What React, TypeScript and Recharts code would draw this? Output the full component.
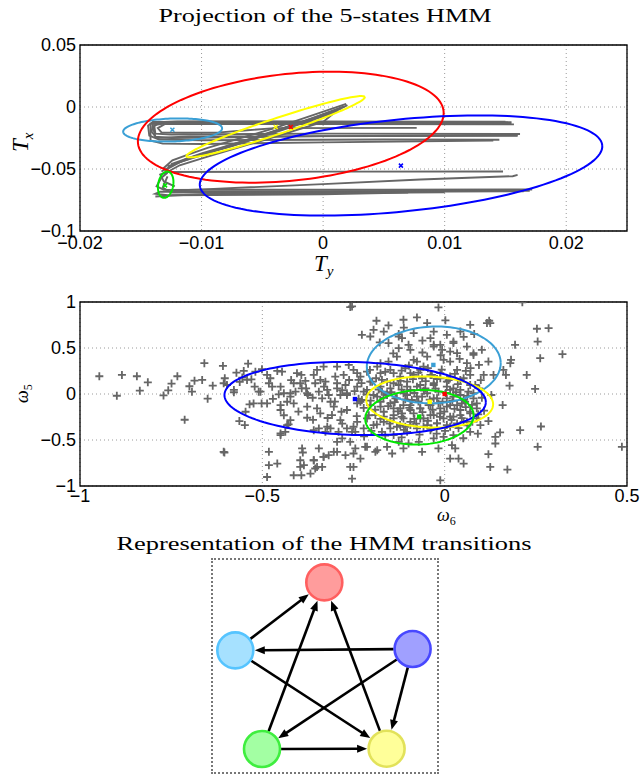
import React from 'react';
import { ScatterChart, Scatter, XAxis, YAxis, CartesianGrid, ReferenceArea } from 'recharts';

type P = [number, number];
const toPts = (a: P[]) => a.map(([x, y]) => ({ x, y }));

// ---------- states ----------
const stateNames = ['cyan', 'red', 'yellow', 'blue', 'green'];
const stateColors: Record<string, string> = {
  cyan: '#3a9fd5',
  red: '#ff0000',
  yellow: '#ffff00',
  blue: '#0000ff',
  green: '#00e600',
};

// ---------- top panel (T_y, T_x) ----------
const topXTicks = [-0.02, -0.01, 0, 0.01, 0.02];
const topYTicks = [-0.1, -0.05, 0, 0.05];

const trajUpperA: P[] = [[0.0155, -0.0122], [0.005, -0.012], [-0.01, -0.0119], [-0.014, -0.012], [-0.0144, -0.015], [-0.0143, -0.023], [-0.0135, -0.0262], [-0.01, -0.0268], [0.005, -0.0262], [0.0145, -0.0264]];
const trajUpperB: P[] = [[0.0152, -0.0131], [0.0, -0.013], [-0.0135, -0.0128], [-0.014, -0.016], [-0.0138, -0.024], [-0.0125, -0.025], [0.0, -0.0235], [0.016, -0.0228]];
const trajUpperC: P[] = [[0.0157, -0.014], [0.0, -0.0138], [-0.013, -0.0136], [-0.0136, -0.017], [-0.0133, -0.0205], [-0.0115, -0.0208], [-0.0085, -0.0205], [-0.0065, -0.019], [-0.004, -0.017], [0.0077, -0.0168]];
const trajUpperD: P[] = [[0.0152, -0.0125], [-0.012, -0.0124], [-0.0142, -0.0135], [-0.0142, -0.027], [-0.0132, -0.0295], [-0.01, -0.0298], [0.0, -0.0285], [0.014, -0.027]];
const trajUpperE: P[] = [[0.0162, -0.0218], [0.0, -0.0215], [-0.0125, -0.0222], [-0.0138, -0.0215], [-0.0139, -0.0145], [-0.0128, -0.013], [0.0155, -0.0135]];
const trajUpperF: P[] = [[0.016, -0.0232], [-0.011, -0.0238], [-0.0137, -0.025], [-0.0141, -0.02], [-0.014, -0.0125], [-0.012, -0.0117], [0.015, -0.0118]];
const trajDiagA: P[] = [[-0.0132, -0.05], [-0.0124, -0.043], [-0.011, -0.038], [-0.0095, -0.033], [-0.004, -0.017], [0.0019, 0.0025]];
const trajDiagB: P[] = [[-0.0133, -0.052], [-0.012, -0.045], [-0.01, -0.039], [-0.008, -0.032], [-0.003, -0.016], [0.0015, -0.001]];
const trajDiagC: P[] = [[-0.0131, -0.054], [-0.0118, -0.047], [-0.0095, -0.04], [-0.005, -0.027], [0.0, -0.012], [0.001, -0.004]];
const trajDiagD: P[] = [[-0.0128, -0.048], [-0.0105, -0.04], [-0.007, -0.03], [-0.0035, -0.019], [0.0005, -0.006], [0.002, 0.0015]];
const trajDiagE: P[] = [[-0.0125, -0.046], [-0.01, -0.0375], [-0.006, -0.026], [-0.002, -0.013], [0.0012, -0.003]];
const trajDiagF: P[] = [[-0.013, -0.051], [-0.0112, -0.0415], [-0.0075, -0.0315], [-0.0045, -0.0215], [-0.001, -0.0095], [0.0017, 0.0005]];
const trajLowerA: P[] = [[0.0148, -0.052], [0.0, -0.0521], [-0.0128, -0.0524], [-0.0134, -0.0545], [-0.0131, -0.06], [-0.0122, -0.064]];
const trajLowerB: P[] = [[0.016, -0.0548], [0.0156, -0.0558], [0.008, -0.0585], [0.0, -0.0622], [-0.009, -0.066], [-0.0126, -0.0675]];
const trajLowerC: P[] = [[0.0172, -0.0665], [0.005, -0.0667], [-0.0131, -0.0668], [-0.0137, -0.064], [-0.0133, -0.057], [-0.0128, -0.053]];
const trajLowerD: P[] = [[0.017, -0.0675], [-0.0134, -0.0683], [-0.0138, -0.07], [-0.0128, -0.0712], [0.0, -0.0705], [0.007, -0.069]];
const trajLowerE: P[] = [[0.0165, -0.068], [0.0, -0.0685], [-0.0125, -0.069], [-0.0132, -0.065], [-0.0128, -0.056]];
const trajLowerF: P[] = [[-0.0138, -0.0722], [-0.012, -0.0712], [-0.009, -0.07], [0.01, -0.0688]];
const topTrajectories = [trajUpperA, trajUpperB, trajUpperC, trajUpperD, trajUpperE, trajUpperF, trajDiagA, trajDiagB, trajDiagC, trajDiagD, trajDiagE, trajDiagF, trajLowerA, trajLowerB, trajLowerC, trajLowerD, trajLowerE, trajLowerF];

// Gaussian contours: centre, two conjugate semi-axes (order: cyan, red, yellow, blue, green)
const topCenters: P[] = [[-0.01238, -0.01855], [-0.00266, -0.0163], [-0.00391, -0.01589], [0.00641, -0.04718], [-0.01295, -0.06266]];
const topAxisU: P[] = [[0.004068, 0.001395], [0.01257, 0.013], [0.007336, 0.02395], [0.016554, 0.016347], [0.000189, 0.010565]];
const topAxisV: P[] = [[-0.000033, 0.009266], [-0.000461, 0.04283], [-0.000208, 0.00612], [-0.000379, 0.03695], [0.000609, -0.001048]];
const topMeans: P[] = [[-0.0124, -0.0183], [-0.00266, -0.0161], [-0.0039, -0.0161], [0.0064, -0.0473], [-0.013, -0.0632]];

// ---------- middle panel (omega6, omega5) ----------
const midXTicks = [-1, -0.5, 0, 0.5];
const midYTicks = [-1, -0.5, 0, 0.5, 1];
const midStates = ['cyan', 'yellow', 'blue', 'green'];
const midCenters: P[] = [[-0.0299, 0.3163], [-0.0411, -0.0872], [-0.2455, -0.0491], [-0.0693, -0.253]];
const midAxisU: P[] = [[0.18351, 0.02737], [0.17394, -0.02857], [0.35836, -0.04133], [0.14847, 0.02475]];
const midAxisV: P[] = [[-0.00393, 0.41685], [0.002863, 0.27655], [0.002882, 0.39575], [-0.003115, 0.29564]];
const midMeanStates = ['red', 'cyan', 'yellow', 'blue', 'green'];
const midMeans: P[] = [[0.0, 0.0], [-0.031, 0.316], [-0.041, -0.085], [-0.246, -0.055], [-0.07, -0.246]];

const omegaPoints: P[] = [
  [-0.947, 0.193], [-0.899, -0.019], [-0.885, 0.207], [-0.844, 0.193], [-0.836, 0.036], [-0.814, 0.127], [-0.771, -0.015], [-0.758, 0.04], [-0.749, 0.113], [-0.733, 0.193], [-0.713, -0.28], [-0.7, 0.084], [-0.693, 0.025], [-0.686, 0.145], [-0.665, 0.153], [-0.659, 0.335], [-0.65, -0.051], [-0.636, 0.091],
  [-0.259, 0.945], [-0.608, 0.305], [-0.603, 0.171], [-0.597, 0.098], [-0.571, 0.232], [-0.551, 0.251], [-0.539, 0.33], [-0.53, 0.16], [-0.555, 0.178], [-0.578, 0.019], [-0.535, -0.112], [-0.546, -0.193], [-0.563, -0.294], [-0.548, -0.338], [-0.604, -0.636], [-0.51, 0.025], [-0.502, -0.102], [-0.519, 0.243], [-0.501, 0.269], [-0.487, 0.207], [-0.482, 0.117], [-0.473, 0.08], [-0.459, 0.251], [-0.446, 0.243], [-0.455, -0.003], [-0.441, 0.008], [-0.45, -0.12], [-0.432, -0.084], [-0.423, 0.008], [-0.414, 0.117], [-0.409, 0.025], [-0.428, -0.33], [-0.45, -0.447], [-0.437, -0.411], [-0.393, 0.207], [-0.382, 0.142], [-0.38, 0.062], [-0.375, -0.011], [-0.377, -0.258], [-0.359, 0.207], [-0.355, 0.117], [-0.345, 0.025], [-0.35, -0.156], [-0.336, -0.047], [-0.327, 0.134], [-0.332, 0.298], [-0.318, -0.011], [-0.313, -0.084], [-0.309, -0.229], [-0.3, 0.189], [-0.295, 0.062], [-0.286, -0.011], [-0.283, -0.193], [-0.277, 0.207], [-0.272, 0.098], [-0.268, -0.011], [-0.263, 0.316], [-0.391, -0.592], [-0.389, -0.636], [-0.386, -0.774], [-0.396, -0.72], [-0.393, -0.883], [-0.414, -0.883], [-0.368, -0.865], [-0.359, -0.72], [-0.355, -0.81], [-0.345, -0.592], [-0.332, -0.683], [-0.336, -0.793], [-0.318, -0.665], [-0.304, -0.629], [-0.272, -0.665], [-0.259, -0.793], [-0.482, -0.629], [-0.482, -0.774], [-0.459, -0.756], [-0.487, -0.902], [-0.432, -0.338], [-0.345, -0.374], [-0.327, -0.411], [-0.313, -0.374], [-0.291, -0.411], [-0.268, -0.374], [-0.254, -0.411], [-0.259, -0.52], [-0.281, -0.483], [-0.295, -0.52],
  [-0.254, 0.952], [-0.017, 0.941], [-0.076, 0.832], [-0.113, 0.807], [-0.187, 0.796], [-0.154, 0.745], [-0.167, 0.679], [-0.227, 0.643], [-0.204, 0.625], [-0.126, 0.651], [-0.117, 0.607], [-0.099, 0.534], [-0.048, 0.771], [-0.039, 0.607], [-0.03, 0.534], [-0.012, 0.534], [-0.007, 0.48], [0.015, 0.461], [0.024, 0.57], [0.043, 0.679], [0.061, 0.516], [0.079, 0.425], [0.102, 0.48], [0.094, 0.316], [0.107, 0.207], [0.116, 0.771], [-0.126, 0.498], [-0.154, 0.352], [-0.185, 0.298], [-0.213, 0.243], [-0.24, 0.226], [-0.236, 0.153], [-0.204, 0.134], [-0.172, 0.153], [-0.14, 0.226], [-0.108, 0.28], [-0.076, 0.352], [-0.058, 0.298], [0.015, 0.352], [0.034, 0.262], [0.052, 0.171], [0.07, 0.207], [0.084, 0.098], [0.065, 0.025], [0.043, -0.011], [0.024, 0.062], [0.006, 0.134], [-0.012, 0.171], [-0.035, 0.207], [-0.062, 0.171], [-0.085, 0.207], [-0.103, 0.134], [-0.126, 0.098], [-0.149, 0.062], [-0.172, 0.025], [-0.195, -0.011], [-0.222, 0.025], [-0.231, -0.084], [-0.204, -0.12], [-0.176, -0.084], [-0.158, -0.011], [-0.135, -0.047], [-0.113, 0.008], [-0.094, 0.044], [-0.076, 0.08], [-0.053, 0.062], [-0.03, 0.098], [-0.017, 0.025], [0.015, 0.044], [0.006, -0.047], [-0.03, -0.047], [-0.062, -0.029], [-0.09, -0.065], [-0.113, -0.12], [-0.14, -0.156], [-0.167, -0.193], [-0.19, -0.229], [-0.213, -0.265], [-0.24, -0.302], [-0.222, -0.374], [-0.245, -0.411], [-0.195, -0.338], [-0.167, -0.302], [-0.14, -0.265], [-0.117, -0.211], [-0.094, -0.174], [-0.067, -0.156], [-0.044, -0.12], [-0.017, -0.102], [0.006, -0.138], [0.034, -0.12], [0.056, -0.084], [0.079, -0.047], [0.088, -0.156], [0.07, -0.193], [0.043, -0.229], [0.015, -0.247], [-0.012, -0.211], [-0.039, -0.229], [-0.067, -0.265], [-0.094, -0.302], [-0.122, -0.338], [-0.149, -0.374], [-0.172, -0.411], [-0.14, -0.447], [-0.103, -0.411], [-0.076, -0.374], [-0.048, -0.338], [-0.021, -0.32], [0.006, -0.338], [0.034, -0.32], [0.061, -0.302], [0.088, -0.265], [0.098, -0.338], [0.07, -0.411], [0.024, -0.447], [-0.003, -0.465], [-0.03, -0.483], [-0.071, -0.52], [-0.099, -0.538], [-0.126, -0.52], [-0.158, -0.574], [-0.185, -0.611], [-0.218, -0.574], [-0.245, -0.592], [-0.231, -0.702], [-0.19, -0.629], [-0.144, -0.647], [-0.113, -0.592], [-0.062, -0.629], [-0.017, -0.592], [0.02, -0.556], [0.029, -0.592], [0.015, -0.702], [0.038, -0.702], [0.052, -0.756], [-0.012, -0.938], [-0.25, -0.793], [-0.254, -0.92], [-0.108, -0.356], [-0.039, -0.393],
  [0.213, 0.996], [0.122, 0.796], [0.253, 0.709], [0.285, 0.716], [0.255, 0.57], [0.193, 0.534], [0.323, 0.433], [0.262, 0.389], [0.182, 0.371], [0.18, 0.335], [0.12, 0.352], [0.161, 0.262], [0.168, 0.207], [0.134, 0.207], [0.225, 0.207], [0.178, 0.091], [0.248, 0.055], [0.128, -0.011], [0.159, -0.12], [0.12, -0.294], [0.152, -0.418], [0.139, -0.465], [0.139, -0.538], [0.207, -0.393], [0.264, -0.353], [0.255, -0.574], [0.486, -0.574], [0.12, -0.654], [0.125, -0.793], [0.172, -0.821],
  [-0.176, 0.226], [-0.149, 0.262], [-0.122, 0.189], [-0.094, 0.226], [-0.067, 0.262], [-0.039, 0.207], [-0.012, 0.226], [0.015, 0.189], [0.043, 0.153], [0.07, 0.098], [-0.176, 0.08], [-0.14, 0.117], [-0.103, 0.08], [-0.067, 0.098], [-0.03, 0.117], [0.006, 0.08], [0.043, 0.044], [0.079, 0.008], [-0.185, -0.029], [-0.158, 0.008], [-0.131, -0.047], [-0.103, -0.011], [-0.076, -0.029], [-0.048, 0.008], [-0.021, -0.047], [0.024, -0.029], [0.052, -0.065], [0.088, -0.102], [-0.176, -0.138], [-0.149, -0.102], [-0.122, -0.156], [-0.094, -0.12], [-0.067, -0.156], [-0.039, -0.12], [-0.012, -0.156], [0.015, -0.12], [0.043, -0.174], [0.07, -0.211], [-0.167, -0.247], [-0.14, -0.229], [-0.113, -0.265], [-0.085, -0.211], [-0.058, -0.265], [-0.03, -0.229], [-0.003, -0.265], [0.024, -0.247], [0.052, -0.302], [-0.131, -0.356], [-0.094, -0.338], [-0.058, -0.356], [-0.021, -0.32], [0.015, -0.356], [-0.199, 0.134], [-0.213, 0.044], [-0.227, -0.065], [-0.176, 0.335], [-0.131, 0.407], [-0.085, 0.371], [-0.048, 0.407], [-0.003, 0.371], [0.034, 0.444], [0.061, 0.335], [0.079, 0.444], [-0.094, 0.48], [-0.03, 0.516], [0.024, 0.553], [-0.154, 0.553], [-0.126, 0.625], [-0.085, 0.662], [-0.03, 0.679], [0.006, 0.643], [0.07, 0.752], [-0.195, 0.698], [0.125, 0.771],
  [-0.606, 0.117], [-0.578, 0.044], [-0.542, 0.153], [-0.505, 0.025], [-0.478, 0.171], [-0.45, 0.08], [-0.423, -0.029], [-0.396, 0.117], [-0.377, 0.008], [-0.341, 0.153], [-0.322, 0.044], [-0.295, 0.117], [-0.268, 0.008], [-0.24, 0.08], [-0.231, 0.189], [-0.295, 0.298], [-0.25, 0.262], [-0.35, 0.262], [-0.405, 0.226], [-0.524, -0.102], [-0.487, -0.102], [-0.45, -0.174], [-0.414, -0.102], [-0.377, -0.138], [-0.341, -0.211], [-0.304, -0.138], [-0.268, -0.174], [-0.24, -0.102], [-0.286, -0.284], [-0.25, -0.356], [-0.322, -0.356], [-0.359, -0.393], [-0.423, -0.284], [-0.45, -0.429], [-0.213, -0.574], [-0.25, -0.647], [-0.295, -0.629], [-0.332, -0.683], [-0.359, -0.72], [-0.396, -0.793], [-0.35, -0.793], [-0.606, -0.629],
  [-0.205, 0.262], [-0.163, 0.241], [-0.118, 0.255], [-0.072, 0.233], [-0.046, 0.281], [-0.008, 0.265], [0.028, 0.219], [0.058, 0.251],
  [-0.228, 0.118], [-0.188, 0.171], [-0.158, 0.131], [-0.121, 0.142], [-0.087, 0.161], [-0.052, 0.139], [-0.021, 0.163], [0.011, 0.151], [0.036, 0.108], [0.095, 0.061],
  [-0.247, 0.031], [-0.214, -0.003], [-0.181, 0.049], [-0.146, 0.021], [-0.118, 0.047], [-0.083, 0.011], [-0.057, 0.036], [-0.025, 0.058], [0.003, 0.012], [0.031, 0.019], [0.062, -0.021], [0.102, -0.041],
  [-0.236, -0.052], [-0.203, -0.071], [-0.168, -0.042], [-0.137, -0.089], [-0.108, -0.058], [-0.072, -0.081], [-0.041, -0.062], [-0.006, -0.083], [0.021, -0.072], [0.047, -0.101], [0.075, -0.118], [0.108, -0.181],
  [-0.222, -0.151], [-0.191, -0.171], [-0.155, -0.131], [-0.128, -0.188], [-0.097, -0.151], [-0.061, -0.197], [-0.033, -0.171], [-0.001, -0.191], [0.027, -0.161], [0.058, -0.142], [0.092, -0.221],
  [-0.208, -0.231], [-0.176, -0.271], [-0.149, -0.292], [-0.118, -0.248], [-0.083, -0.271], [-0.046, -0.291], [-0.013, -0.248], [0.019, -0.281], [0.047, -0.262], [0.076, -0.301],
  [-0.186, -0.331], [-0.151, -0.321], [-0.112, -0.391], [-0.078, -0.321], [-0.036, -0.371], [0.001, -0.401], [0.038, -0.371], [0.062, -0.341],
  [-0.163, -0.452], [-0.118, -0.472], [-0.069, -0.441], [-0.022, -0.431], [0.051, -0.481], [0.091, -0.431],
  [-0.262, 0.152], [-0.281, 0.041], [-0.301, -0.082], [-0.331, 0.081], [-0.362, -0.041], [-0.392, 0.062], [-0.421, 0.151], [-0.471, -0.052], [-0.521, 0.081], [-0.562, 0.131],
  [-0.441, -0.231], [-0.401, -0.191], [-0.361, -0.281], [-0.321, -0.261], [-0.281, -0.321], [-0.241, -0.241], [-0.201, -0.401], [-0.221, -0.461],
  [-0.098, 0.311], [-0.061, 0.451], [-0.011, 0.421], [0.041, 0.381], [0.071, 0.281], [0.099, 0.151], [-0.141, 0.441], [-0.178, 0.561], [-0.061, 0.581], [0.052, 0.621], [-0.112, 0.721], [0.002, 0.801], [0.081, 0.651],
];

// ---------- transition diagram ----------
const nodeStates = ['red', 'cyan', 'blue', 'green', 'yellow'];
const nodeLayout: P[] = [[112.3, 23.4], [23.3, 91.4], [200.6, 90], [50, 190], [174.6, 189.7]];
const transitions: [number, number][] = [[1, 0], [2, 1], [1, 4], [3, 0], [4, 0], [2, 3], [2, 4], [3, 4]];
const nodeFill: Record<string, string> = { red: '#ff9c9c', cyan: '#a6e1ff', blue: '#a0a0ff', green: '#a3ffa3', yellow: '#ffff99' };
const nodeStroke: Record<string, string> = { red: '#ff5f5f', cyan: '#55c4ff', blue: '#4848ff', green: '#3fee3f', yellow: '#e2e25a' };
const NODE_R = 18;

// ---------- helpers ----------
const ellipse = (c: P, u: P, v: P, n = 140) => {
  const out: { x: number; y: number }[] = [];
  for (let i = 0; i <= n; i++) {
    const t = (2 * Math.PI * i) / n;
    out.push({ x: c[0] + Math.cos(t) * u[0] + Math.sin(t) * v[0], y: c[1] + Math.cos(t) * u[1] + Math.sin(t) * v[1] });
  }
  return out;
};
const fmt = (v: number) => (v < 0 ? '\u2212' + String(Math.abs(v)) : String(v));
const tickStyle = { fontFamily: 'Liberation Sans, Arial, sans-serif', fontSize: 18, fill: '#000' };
const NoDot = () => <g />;
const PlusShape = (p: any) => (
  <path d={`M${p.cx - 4},${p.cy}h8M${p.cx},${p.cy - 4}v8`} stroke="#666" strokeWidth={1.8} fill="none" />
);
const crossShape = (color: string) => (p: any) => (
  <path d={`M${p.cx - 2},${p.cy - 2}l4,4M${p.cx - 2},${p.cy + 2}l4,-4`} stroke={color} strokeWidth={1.5} fill="none" />
);
const squareShape = (color: string) => (p: any) => <rect x={p.cx - 2.2} y={p.cy - 2.2} width={4.4} height={4.4} fill={color} />;

const NodeShape = (p: any) => {
  const s = p.payload.state as string;
  return <circle cx={p.cx} cy={p.cy} r={NODE_R} fill={nodeFill[s]} stroke={nodeStroke[s]} strokeWidth={2.6} />;
};
const ArrowHead = (p: any) => (
  <polygon points="0,0 -10,-4 -10,4" fill="#000" transform={`translate(${p.cx},${p.cy}) rotate(${p.payload.angle})`} />
);

const edgeGeometry = transitions.map(([a, b]) => {
  const [x1, y1] = nodeLayout[a];
  const [x2, y2] = nodeLayout[b];
  const dx = x2 - x1, dy = y2 - y1;
  const len = Math.sqrt(dx * dx + dy * dy);
  const ux = dx / len, uy = dy / len;
  const tip = { x: x2 - ux * (NODE_R + 1.5), y: y2 - uy * (NODE_R + 1.5) };
  return {
    line: [{ x: x1 + ux * (NODE_R + 1), y: y1 + uy * (NODE_R + 1) }, { x: tip.x - ux * 7, y: tip.y - uy * 7 }],
    head: { ...tip, angle: (Math.atan2(dy, dx) * 180) / Math.PI },
  };
});

export default function App() {
  return (
    <div style={{ position: 'absolute', left: 0, top: 0, width: 641, height: 774, background: '#fff' }}>
      {/* top chart */}
      <div style={{ position: 'absolute', left: 0, top: 0 }}>
        <ScatterChart width={641} height={270} margin={{ top: 45, right: 14, bottom: 0, left: 0 }}>
          <CartesianGrid strokeDasharray="1 3" stroke="#9a9a9a" />
          <XAxis type="number" dataKey="x" domain={[-0.02, 0.025]} ticks={topXTicks} tickFormatter={fmt} allowDataOverflow height={39} tickLine={false} axisLine={false} tickSize={0} tickMargin={5} tick={tickStyle} interval={0} />
          <YAxis type="number" dataKey="y" domain={[-0.1, 0.05]} ticks={topYTicks} tickFormatter={fmt} allowDataOverflow width={80} tickLine={false} axisLine={false} tickSize={0} tickMargin={4} tick={tickStyle} interval={0} />
          {topTrajectories.map((t, i) => (
            <Scatter key={'t' + i} data={toPts(t)} line={{ stroke: '#666', strokeWidth: 1.9 }} lineType="joint" shape={NoDot} isAnimationActive={false} />
          ))}
          {stateNames.map((s, i) => (
            <Scatter key={'e' + s} data={ellipse(topCenters[i], topAxisU[i], topAxisV[i])} line={{ stroke: stateColors[s], strokeWidth: 2 }} lineType="joint" shape={NoDot} isAnimationActive={false} />
          ))}
          {stateNames.map((s, i) => (
            <Scatter key={'m' + s} data={toPts([topMeans[i]])} shape={crossShape(stateColors[s])} isAnimationActive={false} />
          ))}
          <ReferenceArea x1={-0.02} x2={0.025} y1={-0.1} y2={0.05} fill="none" stroke="#000" strokeWidth={1.3} ifOverflow="visible" />
        </ScatterChart>
      </div>

      {/* middle chart */}
      <div style={{ position: 'absolute', left: 0, top: 270 }}>
        <ScatterChart width={641} height={250} margin={{ top: 32, right: 14, bottom: 0, left: 0 }}>
          <CartesianGrid strokeDasharray="1 3" stroke="#9a9a9a" />
          <XAxis type="number" dataKey="x" domain={[-1, 0.5]} ticks={midXTicks} tickFormatter={fmt} allowDataOverflow height={34} tickLine={false} axisLine={false} tickSize={0} tickMargin={3} tick={tickStyle} interval={0} />
          <YAxis type="number" dataKey="y" domain={[-1, 1]} ticks={midYTicks} tickFormatter={fmt} allowDataOverflow width={80} tickLine={false} axisLine={false} tickSize={0} tickMargin={4} tick={tickStyle} interval={0} />
          <Scatter data={toPts(omegaPoints)} shape={PlusShape} isAnimationActive={false} />
          {midStates.map((s, i) => (
            <Scatter key={'me' + s} data={ellipse(midCenters[i], midAxisU[i], midAxisV[i])} line={{ stroke: stateColors[s], strokeWidth: 2 }} lineType="joint" shape={NoDot} isAnimationActive={false} />
          ))}
          {midMeanStates.map((s, i) => (
            <Scatter key={'mm' + s} data={toPts([midMeans[i]])} shape={squareShape(stateColors[s])} isAnimationActive={false} />
          ))}
          <ReferenceArea x1={-1} x2={0.5} y1={-1} y2={1} fill="none" stroke="#000" strokeWidth={1.3} ifOverflow="visible" />
        </ScatterChart>
      </div>

      {/* diagram */}
      <div style={{ position: 'absolute', left: 211, top: 558, width: 224, height: 212, border: '2px dotted #777' }} />
      <div style={{ position: 'absolute', left: 212, top: 559 }}>
        <ScatterChart width={225} height={215} margin={{ top: 0, right: 0, bottom: 0, left: 0 }}>
          <XAxis type="number" dataKey="x" domain={[0, 225]} hide allowDataOverflow />
          <YAxis type="number" dataKey="y" domain={[0, 215]} hide reversed allowDataOverflow />
          {edgeGeometry.map((e, i) => (
            <Scatter key={'ed' + i} data={e.line} line={{ stroke: '#000', strokeWidth: 2.6 }} lineType="joint" shape={NoDot} isAnimationActive={false} />
          ))}
          <Scatter data={edgeGeometry.map((e) => e.head)} shape={ArrowHead} isAnimationActive={false} />
          <Scatter data={nodeStates.map((s, i) => ({ x: nodeLayout[i][0], y: nodeLayout[i][1], state: s }))} shape={NodeShape} isAnimationActive={false} />
        </ScatterChart>
      </div>

      {/* texts */}
      <svg width={641} height={774} style={{ position: 'absolute', left: 0, top: 0, pointerEvents: 'none' }}>
        <g fontFamily="Liberation Serif, serif" fill="#000">
          <text x={325} y={22} fontSize={19} textAnchor="middle" textLength={333} lengthAdjust="spacingAndGlyphs">Projection of the 5-states HMM</text>
          <text x={314} y={271} fontSize={23} fontStyle="italic">T<tspan fontSize={15} dy={5}>y</tspan></text>
          <text transform="translate(28,152) rotate(-90)" fontSize={23} fontStyle="italic">T<tspan fontSize={15} dy={5}>x</tspan></text>
          <text x={437} y={521} fontSize={18} fontStyle="italic">ω<tspan fontSize={12} dy={4} fontStyle="normal">6</tspan></text>
          <text transform="translate(28,403) rotate(-90)" fontSize={18} fontStyle="italic">ω<tspan fontSize={12} dy={4} fontStyle="normal">5</tspan></text>
          <text x={324} y={550} fontSize={19} textAnchor="middle" textLength={415} lengthAdjust="spacingAndGlyphs">Representation of the HMM transitions</text>
        </g>
      </svg>
    </div>
  );
}
